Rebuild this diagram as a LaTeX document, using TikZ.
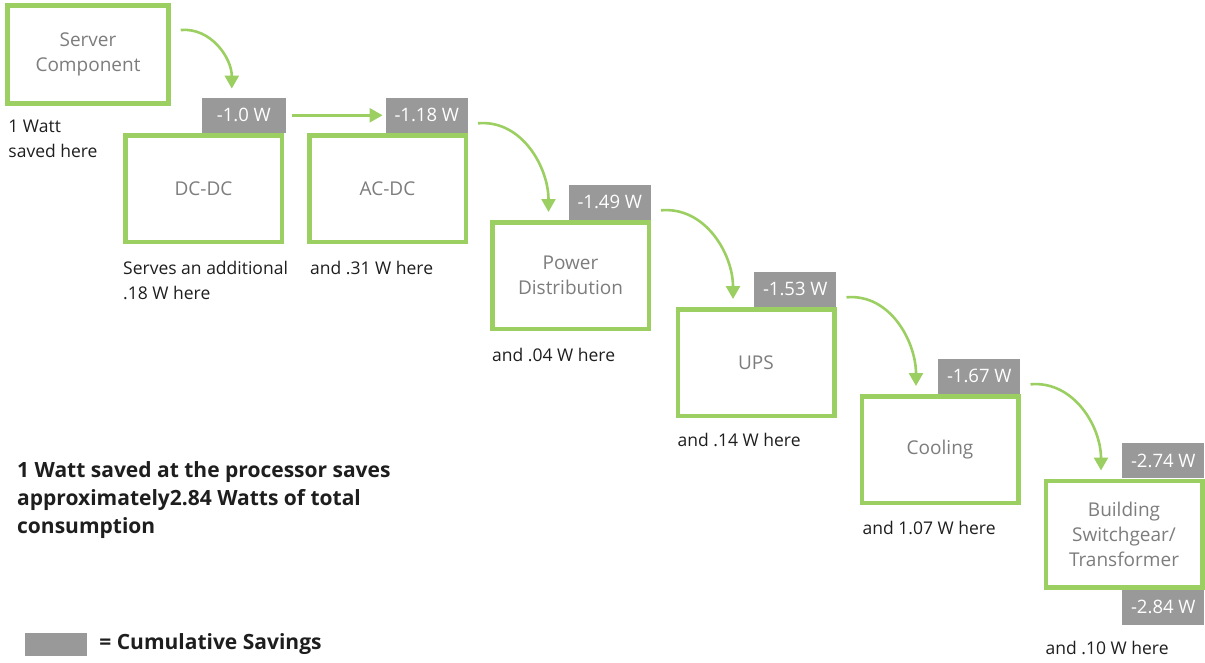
\documentclass[tikz,border=0pt]{standalone}
\usepackage{fontspec}
\setmainfont{Open Sans}
\usetikzlibrary{arrows.meta,positioning}

\definecolor{leaf}{RGB}{155,207,98}
\definecolor{savgray}{RGB}{153,153,153}
\definecolor{boxtext}{RGB}{125,125,125}
\definecolor{ink}{RGB}{30,30,30}

\tikzset{
  stage/.style={draw=leaf, line width=4.5pt, fill=white, minimum width=156.5pt, minimum height=106.5pt,
    align=center, text=boxtext, font=\fontsize{19}{25}\selectfont},
  saving/.style={fill=savgray, text=white, minimum width=82pt, minimum height=35pt, inner sep=0pt,
    font=\fontsize{18.5}{20}\selectfont},
  note/.style={anchor=north west, inner sep=0pt, align=left, text=ink, font=\fontsize{17.5}{25}\selectfont},
  flow/.style={draw=leaf, line width=2.6pt, -{Triangle[width=14pt,length=13pt]}},
}

\begin{document}
\begin{tikzpicture}[x=1pt,y=1pt]
\useasboundingbox (0,0) rectangle (1205,-662);

% stages
\node[stage, minimum width=161pt, minimum height=98pt] (srv) at (88,-54.5) {Server\\Component};
\node[stage] (dcdc) at (203.5,-188.5) {DC-DC};
\node[stage] (acdc) at (387.5,-188.5) {AC-DC};
\node[stage] (pdist) at (570.5,-275.5) {Power\\Distribution};
\node[stage] (ups) at (756,-362.5) {UPS};
\node[stage] (cool) at (940,-449.5) {Cooling};
\node[stage] (bldg) at (1124,-534) {Building\\Switchgear/\\Transformer};

% cumulative savings
\node[saving, minimum width=84pt, anchor=south east] (s1) at ([xshift=2pt]dcdc.north east) {-1.0 W};
\node[saving, anchor=south east] (s2) at (acdc.north east) {-1.18 W};
\node[saving, anchor=south east] (s3) at (pdist.north east) {-1.49 W};
\node[saving, anchor=south east] (s4) at (ups.north east) {-1.53 W};
\node[saving, anchor=south east] (s5) at (cool.north east) {-1.67 W};
\node[saving, anchor=south east] (s6) at (bldg.north east) {-2.74 W};
\node[saving, anchor=north east] (s7) at (bldg.south east) {-2.84 W};

% notes
\node[note] (n0) at ([xshift=3pt,yshift=-14pt]srv.south west) {1 Watt\\saved here};
\node[note] (n1) at ([yshift=-17pt]dcdc.south west) {Serves an additional\\.18 W  here};
\node[note] (n2) at ([xshift=3pt,yshift=-17pt]acdc.south west) {and .31 W here};
\node[note] (n3) at ([xshift=2pt,yshift=-17pt]pdist.south west) {and .04 W  here};
\node[note] (n4) at ([xshift=2pt,yshift=-15pt]ups.south west) {and .14 W  here};
\node[note] (n5) at ([xshift=3pt,yshift=-16pt]cool.south west) {and 1.07 W here};
\node[note] (n6) at ([xshift=2pt,yshift=-16pt]s7.south -| bldg.south west) {and .10 W here};

% flows
\draw[flow] ([xshift=10pt,yshift=24.5pt]srv.east) to[out=5,in=90] ([xshift=-12pt,yshift=9pt]s1.north);
\draw[flow] ([xshift=6pt]s1.east) -- ([xshift=-3pt]s2.west);
\draw[flow] ([xshift=10pt,yshift=-8pt]s2.east) to[out=5,in=90] ([xshift=-22pt,yshift=8pt]pdist.north);
\draw[flow] ([xshift=10pt,yshift=-8pt]s3.east) to[out=5,in=90] ([xshift=-23pt,yshift=8pt]ups.north);
\draw[flow] ([xshift=10pt,yshift=-8pt]s4.east) to[out=5,in=90] ([xshift=-24pt,yshift=8pt]cool.north);
\draw[flow] ([xshift=10pt,yshift=-8pt]s5.east) to[out=5,in=90] ([xshift=-23pt,yshift=8pt]bldg.north);

% summary and legend
\node[note, font=\bfseries\fontsize{21}{28}\selectfont] (sum) at (17,-461)
  {1 Watt saved at the processor saves\\approximately2.84 Watts of total\\consumption};
\node[fill=savgray, minimum width=62pt, minimum height=23pt, inner sep=0pt] (key) at (56,-644.5) {};
\node[anchor=west, inner sep=0pt, text=ink, font=\bfseries\fontsize{21}{28}\selectfont] (keytext)
  at ([xshift=12pt]key.east) {= Cumulative Savings};
\end{tikzpicture}
\end{document}
